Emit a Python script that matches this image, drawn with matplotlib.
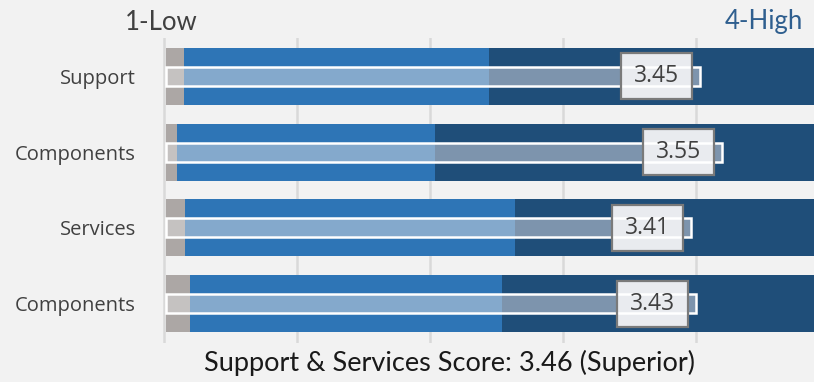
import numpy as np
import matplotlib
matplotlib.use("Agg")
import matplotlib.pyplot as plt
from matplotlib.patches import Rectangle

# Rating scale and per-category data
categories = ["Support", "Components", "Services", "Components"]
low_band_end = [1.083, 1.05, 1.087, 1.11]     # end of the grey (low) band
mid_band_end = [2.482, 2.234, 2.60, 2.54]     # end of the blue (mid) band
scores = [3.45, 3.55, 3.41, 3.43]
scale_min, scale_max = 1, 4
low_label, high_label = "1-Low", "4-High"
summary = "Support & Services Score: 3.46 (Superior)"

BG = "#f2f2f2"
W, H = 814, 382
fig = plt.figure(figsize=(W / 100, H / 100), dpi=100, facecolor=BG)

left_px, top_px, bottom_px = 159.5, 38, 343
ax = fig.add_axes([left_px / W, 1 - bottom_px / H, 1 - left_px / W,
                   (bottom_px - top_px) / H])
ax.set_facecolor(BG)
px_x = 1 / 218.0      # data units per pixel, horizontally
px_y = 1 / 75.67      # data units per pixel, vertically
ax.set_xlim(scale_min - 6.5 * px_x, scale_min + (W - 166) * px_x)
ax.set_ylim(3 + 39.5 * px_y, -38.5 * px_y)

for g in np.arange(0.99, 4.1, 0.61):
    ax.axvline(g, color="#d9d9d9", lw=1.8, zorder=0)

outer_h = 57 * px_y
inner_h = 19 * px_y
outer_cols = ["#aca7a5", "#2e75b6", "#1f4e79"]
inner_cols = ["#c5c2c1", "#84a9cc", "#7d94ad"]

box_w = 71 * px_x
box_h = 46 * px_y
box_gap = 8 * px_x

for i, (lo, mid, sc) in enumerate(zip(low_band_end, mid_band_end, scores)):
    edges = [scale_min, lo, mid, scale_max]
    for k in range(3):
        ax.barh(i, edges[k + 1] - edges[k], left=edges[k], height=outer_h,
                color=outer_cols[k], lw=0, zorder=2)
    inner_edges = [scale_min, lo, mid, sc]
    for k in range(3):
        ax.barh(i, inner_edges[k + 1] - inner_edges[k], left=inner_edges[k],
                height=inner_h, color=inner_cols[k], lw=0, zorder=3)
    # value callout box
    bx = sc - box_gap - box_w
    ax.add_patch(Rectangle((bx, i - box_h / 2), box_w, box_h,
                           facecolor="#e9ebef", edgecolor="none", zorder=4))
    ax.add_patch(Rectangle((scale_min, i - inner_h / 2), sc - scale_min, inner_h,
                           fill=False, edgecolor="white", lw=1.8, zorder=5))
    ax.add_patch(Rectangle((bx, i - box_h / 2), box_w, box_h,
                           fill=False, edgecolor="#7a7a7a", lw=1.6, zorder=6))
    ax.text(bx + box_w / 2, i, f"{sc:.2f}", ha="center", va="center",
            fontsize=16.5, family="Open Sans", color="#404040", zorder=7)

ax.set_yticks(range(len(categories)))
ax.set_yticklabels(categories, family="Open Sans", fontsize=14.5, color="#404040")
ax.tick_params(axis="y", length=0, pad=17)
ax.set_xticks([])
for s in ax.spines.values():
    s.set_visible(False)

fig.text(161 / W, 1 - 22 / H, low_label, ha="center", va="center",
         family="Lato", fontsize=18.5, color="#404040")
fig.text(764 / W, 1 - 22 / H, high_label, ha="center", va="center",
         family="Lato", fontsize=18.5, color="#2f5f8f")
fig.text(450 / W, 1 - 363 / H, summary, ha="center", va="center",
         family="Lato", fontsize=19.5, color="#1a1a1a")

fig.savefig("out.png", dpi=100, facecolor=BG)
